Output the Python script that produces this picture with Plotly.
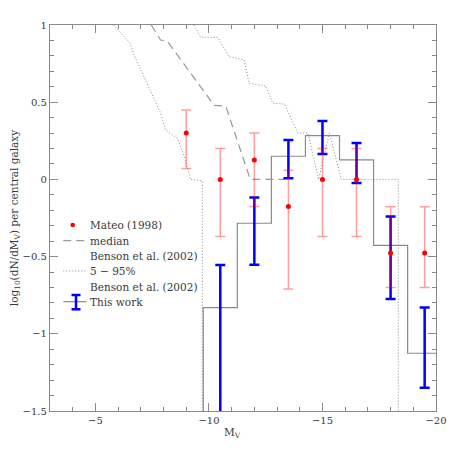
''' Satellite luminosity function per central galaxy '''
import plotly.graph_objects as go

# Mateo (1998) points
mateo_mv = [-9.0, -10.5, -12.0, -13.5, -15.0, -16.5, -18.0, -19.5]
mateo_y = [0.30, 0.0, 0.125, -0.175, 0.0, 0.0, -0.477, -0.477]
mateo_hi = [0.45, 0.20, 0.30, 0.06, 0.20, 0.20, -0.177, -0.177]
mateo_lo = [0.07, -0.37, -0.175, -0.71, -0.37, -0.37, -0.70, -0.70]

# This work: histogram + error bars
work_edges = [-9.75, -11.25, -12.75, -14.25, -15.75, -17.25, -18.75, -20.25]
work_mv = [-10.5, -12.0, -13.5, -15.0, -16.5, -18.0, -19.5]
work_y = [-0.83, -0.284, 0.15, 0.283, 0.126, -0.427, -1.126]
work_hi = [-0.555, -0.118, 0.255, 0.378, 0.236, -0.24, -0.83]
work_lo = [-2.0, -0.552, 0.007, 0.165, -0.023, -0.775, -1.35]

# Benson et al. (2002) median and 5-95% curves
median_mv = [-7.46, -7.87, -8.16, -10.23, -10.74, -11.82, -13.32]
median_y = [1.0, 0.903, 0.896, 0.479, 0.475, 0.0, 0.0]
low_mv = [-5.80, -6.54, -6.69, -7.87, -8.09, -8.44, -8.62, -8.97, -9.19, -9.71, -9.71]
low_y = [1.0, 0.88, 0.81, 0.43, 0.32, 0.28, 0.265, 0.126, 0.0, -0.01, -1.5]
high_mv = [-9.34, -9.64, -10.38, -10.89, -11.55, -11.77, -12.51, -12.81, -13.32,
           -13.92, -14.36, -14.83, -15.31, -15.83, -18.34, -18.34]
high_y = [1.0, 0.92, 0.92, 0.795, 0.773, 0.622, 0.605, 0.493, 0.488,
          0.30, 0.30, 0.0, 0.30, 0.0, 0.0, -1.5]

legend_labels = ['Mateo (1998)', 'median', 'Benson et al. (2002)', '5 \u2212 95%',
                 'Benson et al. (2002)', 'This work']

FONT = 'DejaVu Serif'
GREY = '#8a8a8a'
TEXT = '#3a3a3a'

fig = go.Figure()

# histogram steps
fig.add_trace(go.Scatter(
    x=[work_edges[0]] + work_edges,
    y=[-1.6] + work_y + [work_y[-1]],
    mode='lines', line=dict(color=GREY, width=1.2, shape='hv'),
    showlegend=False, hoverinfo='skip'
))

fig.add_trace(go.Scatter(
    x=low_mv, y=low_y, mode='lines',
    line=dict(color=GREY, width=1, dash='1px,2px'), showlegend=False
))
fig.add_trace(go.Scatter(
    x=high_mv, y=high_y, mode='lines',
    line=dict(color=GREY, width=1, dash='1px,2px'), showlegend=False
))
fig.add_trace(go.Scatter(
    x=median_mv, y=median_y, mode='lines',
    line=dict(color='#999999', width=1.2, dash='8px,5px'), showlegend=False
))

# this work error bars
fig.add_trace(go.Scatter(
    x=work_mv, y=work_y, mode='markers',
    marker=dict(size=1, color='rgba(0,0,0,0)'),
    error_y=dict(
        type='data', symmetric=False,
        array=[h - y for h, y in zip(work_hi, work_y)],
        arrayminus=[y - l for l, y in zip(work_lo, work_y)],
        color='#0000ff', thickness=2.5, width=5
    ),
    showlegend=False
))

# Mateo points
fig.add_trace(go.Scatter(
    x=mateo_mv, y=mateo_y, mode='markers',
    marker=dict(size=5, color='#ff0000'),
    error_y=dict(
        type='data', symmetric=False,
        array=[h - y for h, y in zip(mateo_hi, mateo_y)],
        arrayminus=[y - l for l, y in zip(mateo_lo, mateo_y)],
        color='rgba(255,0,0,0.38)', thickness=1.5, width=5
    ),
    showlegend=False
))

# hand-made legend (positions in page pixels -> paper)
def px(x):
    return (x - 50) / 385.7

def py(y):
    return (411 - y) / 386

row_y = [225, 240.7, 255.5, 271, 286.7, 301.7]
shapes = [
    dict(type='circle', xref='paper', yref='paper', xsizemode='pixel', ysizemode='pixel',
         xanchor=px(72.7), yanchor=py(row_y[0]), x0=-2.3, x1=2.3, y0=-2.3, y1=2.3,
         fillcolor='#ff0000', line=dict(width=0)),
    dict(type='line', xref='paper', yref='paper', x0=px(63.3), x1=px(86.5),
         y0=py(row_y[1]), y1=py(row_y[1]), line=dict(color='#999999', width=1.2, dash='8px,5px')),
    dict(type='line', xref='paper', yref='paper', x0=px(63.3), x1=px(86.5),
         y0=py(row_y[3]), y1=py(row_y[3]), line=dict(color=GREY, width=1, dash='1px,2px')),
    dict(type='line', xref='paper', yref='paper', x0=px(63.3), x1=px(86.5),
         y0=py(row_y[5]), y1=py(row_y[5]), line=dict(color=GREY, width=1.2)),
    dict(type='line', xref='paper', yref='paper', x0=px(76), x1=px(76),
         y0=py(295), y1=py(309.3), line=dict(color='#0000ff', width=2.5)),
    dict(type='line', xref='paper', yref='paper', x0=px(71.5), x1=px(80.5),
         y0=py(295), y1=py(295), line=dict(color='#0000ff', width=2.5)),
    dict(type='line', xref='paper', yref='paper', x0=px(71.5), x1=px(80.5),
         y0=py(309.3), y1=py(309.3), line=dict(color='#0000ff', width=2.5)),
]

annotations = [
    dict(text=label, xref='paper', yref='paper', x=px(88), y=py(yy),
         xanchor='left', yanchor='middle', showarrow=False,
         font=dict(family=FONT, size=10.5, color=TEXT))
    for label, yy in zip(legend_labels, row_y)
]
annotations.append(dict(
    text='M<sub>V</sub>', xref='paper', yref='paper', x=px(232), y=py(433),
    xanchor='center', yanchor='middle', showarrow=False,
    font=dict(family=FONT, size=10.5, color=TEXT)
))

axis_style = dict(
    showgrid=False, zeroline=False, showline=True, linecolor=GREY, linewidth=1.2,
    mirror='ticks', ticks='inside', ticklen=8, tickcolor=GREY, automargin=False,
    tickfont=dict(family=FONT, size=10, color=TEXT)
)

# page has an 8px body margin, so the figure is 452 wide/high
fig.update_layout(
    width=452, height=452,
    margin=dict(l=42, r=24, t=17, b=49),
    paper_bgcolor='white', plot_bgcolor='white',
    shapes=shapes, annotations=annotations,
    xaxis=dict(range=[-3, -20], dtick=5, tick0=0,
               minor=dict(dtick=1, ticklen=4, ticks='inside', tickcolor=GREY),
               **axis_style),
    yaxis=dict(range=[-1.5, 1], dtick=0.5, tick0=0,
               minor=dict(dtick=0.1, ticklen=4, ticks='inside', tickcolor=GREY),
               title=dict(text='log<sub>10</sub>(dN/dM<sub>V</sub>) per central galaxy',
                          font=dict(family=FONT, size=10.5, color=TEXT), standoff=8),
               **axis_style),
)

fig.write_html('out.html')
